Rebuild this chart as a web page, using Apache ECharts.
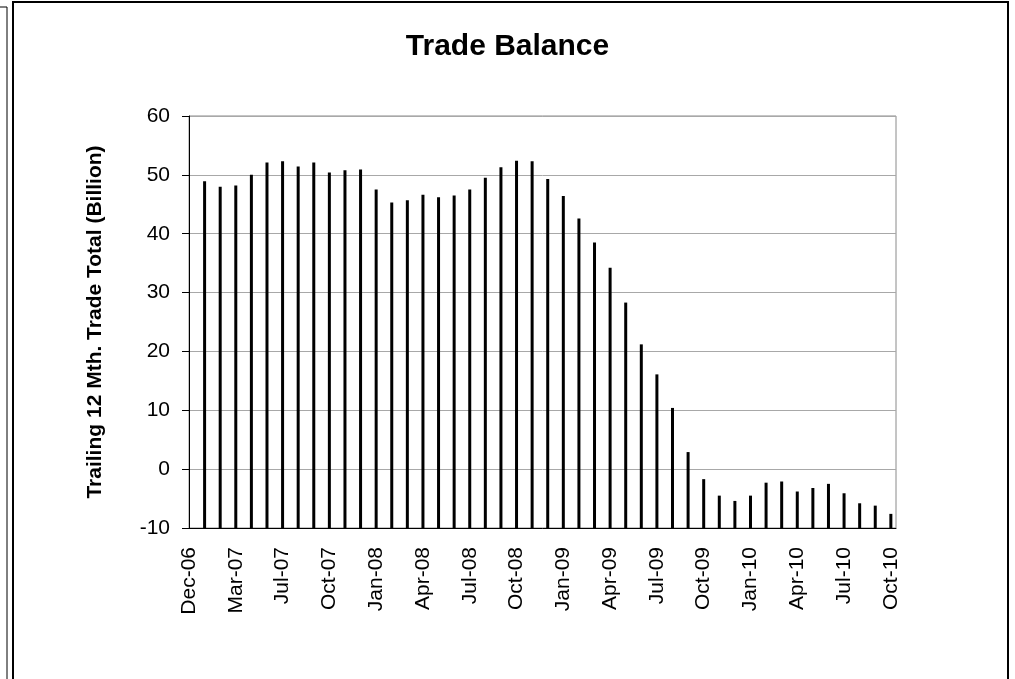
<!DOCTYPE html>
<html>
<head>
<meta charset="utf-8">
<script src="https://cdn.jsdelivr.net/npm/echarts@6/dist/echarts.min.js"></script>
<style>
html,body{margin:0;padding:0;background:#fff;}
#chart{width:1015px;height:679px;}
</style>
</head>
<body>
<div id="chart"></div>
<script>
// Tick labels shown every 3rd category (category index 0, 3, 6, ... 45)
const tickLabels = ['Dec-06','Mar-07','Jul-07','Oct-07','Jan-08','Apr-08','Jul-08','Oct-08',
  'Jan-09','Apr-09','Jul-09','Oct-09','Jan-10','Apr-10','Jul-10','Oct-10'];
const tickStep = 3;
// Trailing 12 month trade total (Billion), categories 1..45
const values = [48.9, 48.0, 48.2, 50.0, 52.1, 52.3, 51.4, 52.1, 50.4, 50.8, 50.9, 47.5,
  45.3, 45.7, 46.6, 46.2, 46.5, 47.5, 49.5, 51.3, 52.4, 52.3, 49.3, 46.4, 42.6,
  38.5, 34.2, 28.3, 21.2, 16.1, 10.4, 2.9, -1.7, -4.5, -5.4, -4.5, -2.3, -2.1,
  -3.8, -3.2, -2.5, -4.1, -5.8, -6.2, -7.6];
const yMin = -10, yMax = 60, yStep = 10;

const font = "Arial, 'Liberation Sans', sans-serif";
const chart = echarts.init(document.getElementById('chart'), null, {renderer: 'canvas'});
const seriesData = values.map((v, i) => [i + 1, v]);

chart.setOption({
  backgroundColor: '#fff',
  animation: false,
  title: {
    text: 'Trade Balance',
    left: 'center',
    top: 27,
    textStyle: {fontFamily: font, fontSize: 30, fontWeight: 'bold', color: '#000'}
  },
  grid: {left: 189, top: 116, width: 707, height: 412, show: true, borderColor: '#8a8a8a', borderWidth: 1, backgroundColor: 'transparent'},
  xAxis: {
    type: 'value',
    min: 0,
    max: 45.33,
    interval: tickStep,
    axisLine: {show: true, onZero: false, lineStyle: {color: '#000', width: 1}},
    axisTick: {show: false},
    splitLine: {show: false},
    axisLabel: {
      rotate: 90,
      margin: 19,
      fontFamily: font,
      fontSize: 21,
      color: '#000',
      showMaxLabel: false,
      formatter: function (v) {
        const k = Math.round(v / tickStep);
        return (Math.abs(v - k * tickStep) < 1e-6 && tickLabels[k]) ? tickLabels[k] : '';
      }
    }
  },
  yAxis: {
    type: 'value',
    min: yMin,
    max: yMax,
    interval: yStep,
    name: 'Trailing 12 Mth. Trade Total (Billion)',
    nameLocation: 'middle',
    nameRotate: 90,
    nameGap: 83,
    nameTextStyle: {fontFamily: font, fontSize: 21, fontWeight: 'bold', color: '#000'},
    axisLine: {show: true, onZero: false, lineStyle: {color: '#000', width: 1}},
    axisTick: {show: true, inside: false, length: 7, lineStyle: {color: '#000'}},
    splitLine: {show: true, lineStyle: {color: '#a8a8a8', width: 1}},
    axisLabel: {margin: 19, fontFamily: font, fontSize: 21, color: '#000'}
  },
  series: [{
    type: 'custom',
    data: seriesData,
    encode: {x: 0, y: 1},
    renderItem: function (params, api) {
      const x = api.value(0);
      const top = api.coord([x, api.value(1)]);
      const base = api.coord([x, yMin]);
      const w = 3;
      return {
        type: 'rect',
        shape: {x: top[0] - w / 2, y: top[1], width: w, height: base[1] - top[1]},
        style: {fill: '#000'}
      };
    }
  }],
  graphic: [
    {type: 'rect', shape: {x: 13, y: 2, width: 995, height: 700}, style: {fill: 'none', stroke: '#000', lineWidth: 2}, silent: true},
    {type: 'polyline', shape: {points: [[0, 7], [7, 7], [7, 679]]}, style: {fill: 'none', stroke: '#000', lineWidth: 1}, silent: true}
  ]
});
</script>
</body>
</html>
